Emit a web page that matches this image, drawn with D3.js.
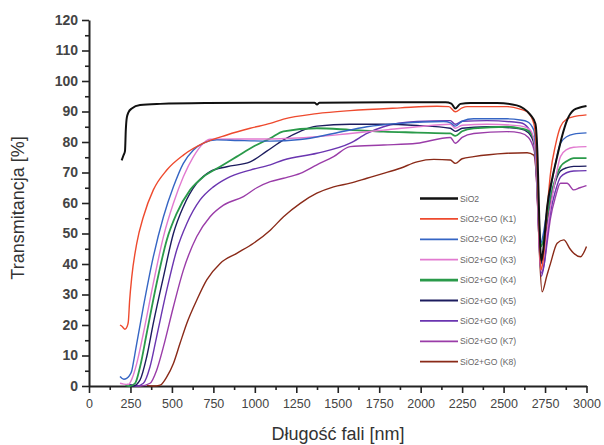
<!DOCTYPE html>
<html><head><meta charset="utf-8">
<script src="https://cdn.jsdelivr.net/npm/d3@7"></script>
<style>body{margin:0;background:#fff}svg{display:block}</style>
</head><body>
<svg id="c" width="604" height="445"></svg>
<script>
const seriesNames = ["SiO2","SiO2+GO (K1)","SiO2+GO (K2)","SiO2+GO (K3)","SiO2+GO (K4)","SiO2+GO (K5)","SiO2+GO (K6)","SiO2+GO (K7)","SiO2+GO (K8)"];
const seriesColors = ["#111111","#ee4a2e","#3565c4","#e27ad0","#2a9a4a","#1c1c5e","#6a35b0","#9a3ca8","#8a2a18"];
const xTicks = [0,250,500,750,1000,1250,1500,1750,2000,2250,2500,2750,3000];
const yTicks = [0,10,20,30,40,50,60,70,80,90,100,110,120];

const sio2 = [[197,74],[207,75.5],[217,77],[222,84],[228,88],[237,89.6],[258,91],[308,92.1],[429,92.5],[700,92.8],[1093,92.9],[1360,92.9],[1375,92.3],[1390,92.9],[1800,93],[2150,93],[2185,92.6],[2209,91],[2240,92.5],[2300,92.8],[2461,92.8],[2580,92],[2621,91],[2662,88.9],[2692,86],[2705,75],[2715,55],[2728,41],[2740,45],[2763,58.8],[2793,68],[2823,75.2],[2853,82],[2883,87.2],[2923,90.5],[2960,91.3],[3000,91.8]];
const k1 = [[187,20],[200,19.5],[217,18.6],[230,19.5],[237,21],[245,28],[258,35.8],[288,46.8],[328,55.5],[388,64.3],[469,70.8],[569,75.7],[690,79.6],[831,82.3],[972,84.5],[1093,86.1],[1173,87.5],[1374,89.3],[1575,90.3],[1877,91.2],[2099,91.7],[2170,91.6],[2209,89.9],[2250,91.2],[2280,91.6],[2521,91.6],[2600,90.8],[2642,89.9],[2682,86.1],[2700,75],[2712,55],[2725,38],[2740,42],[2760,56],[2783,69.7],[2813,79],[2843,85],[2883,87.6],[2923,88.3],[3000,88.9]];
const k2 = [[187,3.1],[210,2.2],[227,2.5],[245,3.5],[258,5],[272,9],[288,14],[328,26],[388,42.4],[449,55.5],[509,65.3],[569,73],[630,77.4],[690,79.6],[771,80.7],[900,80.5],[1093,80.3],[1274,80.8],[1475,82.8],[1676,85],[1877,86.1],[2139,86.7],[2180,86.3],[2209,85.2],[2250,86.8],[2320,87.6],[2521,87.6],[2600,87.2],[2642,86.7],[2682,83.9],[2700,72],[2712,55],[2722,46.5],[2740,50],[2760,57],[2783,64.3],[2813,73],[2843,79.6],[2883,81.8],[2923,82.6],[3000,83]];
const k3 = [[187,0.9],[210,0.6],[237,0.5],[260,2.5],[288,7.4],[328,17.3],[388,33.7],[449,49],[509,59.9],[569,68.6],[630,75.2],[690,79.6],[730,80.9],[900,81],[1093,81],[1374,81.7],[1575,82.8],[1776,83.9],[1978,85],[2179,85.8],[2209,84.5],[2250,85.5],[2400,85.8],[2600,85.3],[2660,84],[2685,80],[2700,68],[2712,50],[2725,38],[2740,42],[2760,50],[2783,58.8],[2813,68],[2843,75.2],[2883,77.6],[2923,78.3],[3000,78.5]];
const k4 = [[220,0.3],[247,0],[278,0.9],[308,6.3],[348,17.3],[408,33.7],[469,47.9],[529,56.6],[610,64.3],[690,68.6],[790,71.9],[891,75.2],[992,78.5],[1093,81.2],[1173,83.5],[1374,84.5],[1575,84],[1776,83.4],[1978,83.1],[2179,82.8],[2209,82],[2250,83.5],[2320,84.5],[2521,85],[2600,84.5],[2642,83.9],[2682,81],[2700,70],[2712,55],[2725,45.7],[2740,48],[2760,55],[2783,62.1],[2813,68],[2843,71.9],[2883,73.8],[2923,74.7],[3000,74.7]];
const k5 = [[230,0.5],[267,0],[308,2],[348,9.6],[388,20.6],[449,35.8],[509,50],[569,58.8],[650,66.5],[730,70.3],[831,71.9],[972,73.5],[1072,77],[1173,80.7],[1274,83.5],[1374,85.2],[1575,85.8],[1776,85.8],[1978,85.4],[2179,84.5],[2209,83.5],[2250,84.5],[2400,85],[2600,84.3],[2650,83],[2685,79],[2700,68],[2712,52],[2725,40],[2740,43],[2760,52],[2783,60],[2813,67],[2843,70.5],[2883,71.6],[2923,72],[3000,72.1]];
const k6 = [[240,0.5],[288,0],[328,0.9],[368,6.3],[408,16.2],[469,31.5],[529,44.6],[590,53.3],[670,61],[750,65.3],[831,68.1],[972,70.8],[1093,72.5],[1173,74.1],[1374,76.3],[1575,79.6],[1676,82.8],[1776,85],[1978,86.7],[2179,87],[2209,85.8],[2250,86.8],[2400,87],[2600,86.3],[2650,84.5],[2685,80],[2700,68],[2712,50],[2728,36],[2745,40],[2765,50],[2783,57],[2813,64],[2843,68.5],[2883,70],[2923,70.5],[3000,70.6]];
const k7 = [[250,0.5],[308,0],[368,0.9],[408,5.2],[449,12.9],[509,26],[569,38],[650,49],[730,55.5],[811,59.3],[931,62.1],[1012,65],[1093,67],[1173,68.1],[1274,69.7],[1374,72.5],[1475,75.2],[1575,78.5],[1776,79],[1978,79.6],[2179,81.5],[2209,79.6],[2250,81.5],[2320,82.8],[2521,83.4],[2600,83],[2650,81.5],[2685,77],[2700,66],[2712,50],[2728,37],[2745,40],[2765,48],[2783,55],[2813,62],[2843,66.5],[2883,66.5],[2923,64.3],[2960,65],[3000,65.7]];
const k8 = [[350,0.2],[388,0],[429,0.3],[469,3],[509,7.4],[549,14],[590,20.6],[650,28.2],[710,34.8],[791,40.2],[891,43.5],[992,46.8],[1093,51.1],[1173,55.5],[1274,59.9],[1374,63.2],[1475,65.3],[1575,66.5],[1676,68.1],[1776,69.7],[1877,71.4],[1978,73.5],[2079,74.3],[2179,74.1],[2209,73],[2250,74.5],[2320,75.2],[2521,76.3],[2642,76.5],[2682,75.7],[2702,64.3],[2715,45],[2732,30.9],[2760,36],[2783,40.2],[2823,46.8],[2863,47.9],[2900,45],[2923,43.5],[2964,42.4],[3000,45.7]];
const seriesData = [sio2,k1,k2,k3,k4,k5,k6,k7,k8];

const svg = d3.select("#c");
const x = d3.scaleLinear().domain([0,3000]).range([89,586.5]);
const y = d3.scaleLinear().domain([0,120]).range([386,20]);
const font = "Liberation Sans, Arial, sans-serif";

// minor ticks
svg.append("g").attr("transform","translate(0,386)")
  .call(d3.axisBottom(x).tickValues(d3.range(125,3000,250)).tickSize(4).tickFormat(""))
  .call(g=>g.select(".domain").remove());
svg.append("g").attr("transform","translate(89,0)")
  .call(d3.axisLeft(y).tickValues(d3.range(5,120,10)).tickSize(4).tickFormat(""))
  .call(g=>g.select(".domain").remove());

const xa = svg.append("g").attr("transform","translate(0,386)")
  .call(d3.axisBottom(x).tickValues(xTicks).tickFormat(d3.format("d")).tickSize(7).tickPadding(6).tickSizeOuter(0));
const ya = svg.append("g").attr("transform","translate(89,0)")
  .call(d3.axisLeft(y).tickValues(yTicks).tickFormat(d3.format("d")).tickSize(7).tickPadding(4).tickSizeOuter(0));
xa.selectAll("text").attr("font-family",font).attr("font-size",12.5).attr("fill","#444");
ya.selectAll("text").attr("font-family",font).attr("font-size",14).attr("font-weight","bold").attr("fill","#444");
[xa,ya].forEach(a=>{
  a.select(".domain").attr("stroke","#222").attr("stroke-width",2);
});
svg.selectAll("g .tick line").attr("stroke","#222").attr("stroke-width",1.6);

const line = d3.line().x(d=>x(d[0])).y(d=>y(d[1])).curve(d3.curveMonotoneX);
const order = [8,7,6,5,4,3,2,1,0];
order.forEach(i=>{
  svg.append("path").datum(seriesData[i]).attr("d",line)
    .attr("fill","none").attr("stroke",seriesColors[i])
    .attr("stroke-width", i===0?2:(i===4?1.8:1.4)).attr("stroke-linejoin","round");
});

// legend
const lg = svg.append("g");
seriesNames.forEach((n,i)=>{
  const yy = 198.5 + i*20.4;
  lg.append("line").attr("x1",420).attr("x2",458).attr("y1",yy).attr("y2",yy)
    .attr("stroke",seriesColors[i]).attr("stroke-width", i===0?2.6:(i===4?2.6:1.8));
  lg.append("text").attr("x",460).attr("y",yy+3).text(n)
    .attr("font-family",font).attr("font-size",8.6).attr("fill","#666");
});

// axis titles
svg.append("text").attr("x",338).attr("y",440).attr("text-anchor","middle")
  .attr("font-family",font).attr("font-size",18).attr("fill","#333").text("Długość fali [nm]");
svg.append("text").attr("transform","translate(24,208) rotate(-90)").attr("text-anchor","middle")
  .attr("font-family",font).attr("font-size",18).attr("fill","#333").text("Transmitancja [%]");
</script>
</body></html>
